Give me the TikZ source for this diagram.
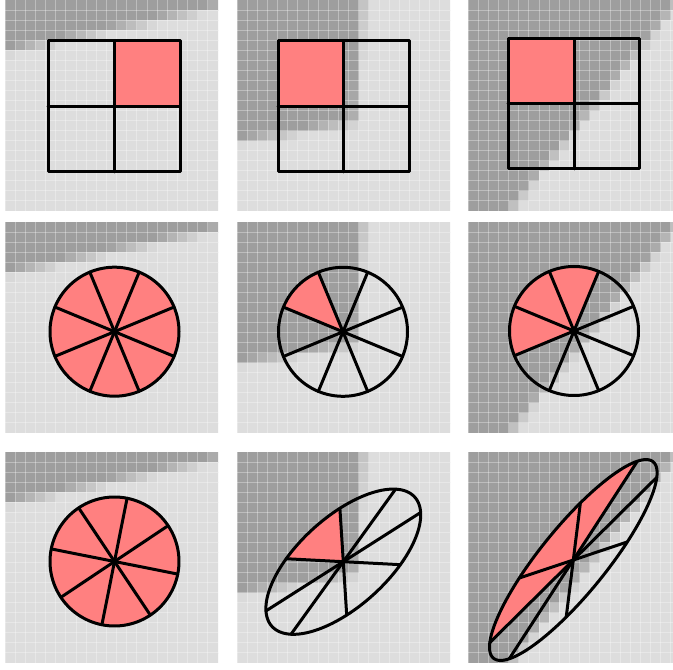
\documentclass[tikz,border=0pt]{standalone}
\definecolor{bgl}{gray}{0.865}
\definecolor{bgd}{gray}{0.62}
\definecolor{salmon}{RGB}{255,128,128}
\tikzset{
  shp/.style={line width=3pt, line join=round, line cap=round, draw=black},
  gridl/.style={draw=white, draw opacity=0.32, line width=1pt},
}
\newcommand\panelbg[3]{%
 \begin{scope}
 \clip (#1,#2) rectangle ++(213,-211);
 \foreach \ii in {0,...,20}{%
  \foreach \jj in {0,...,20}{%
    \pgfmathsetmacro\uu{(\ii+0.5)*10.143}%
    \pgfmathsetmacro\vv{(\jj+0.5)*10.048}%
    \ifcase#3\or
      \pgfmathsetmacro\dd{(52-0.2113*\uu-\vv)*0.978}%
    \or
      \pgfmathsetmacro\dd{min(126-0.06*\vv-\uu,(142-0.17*\uu-\vv)*0.986)}%
    \or
      \pgfmathsetmacro\dd{-0.7775*(\uu-50)-0.6286*(\vv-200)}%
    \fi
    \pgfmathtruncatemacro\pct{max(0,min(100,50+10*\dd))}%
    \fill[bgd!\pct!bgl] ({#1+\ii*10.143},{#2-\jj*10.048}) rectangle ++(10.7,-10.6);
  }}%
 \foreach \ii in {0,...,21}{\draw[gridl] ({#1+\ii*10.143},#2) -- ++(0,-211);}%
 \foreach \jj in {0,...,21}{\draw[gridl] (#1,{#2-\jj*10.048}) -- ++(213,0);}%
 \end{scope}}
\newcommand\wheel[2]{%
 \begin{scope}[#1]
  \foreach \aa/\bb in {#2}{\fill[salmon] (0,0) -- plot[domain=\aa:\bb,samples=40] ({64.5*cos(\x)},{64.5*sin(\x)}) -- cycle;}
  \draw[shp] plot[domain=0:360,samples=145] ({64.5*cos(\x)},{64.5*sin(\x)}) -- cycle;
  \foreach \aa in {22.5,67.5,...,337.5}{\draw[shp] (0,0) -- ({64.5*cos(\aa)},{64.5*sin(\aa)});}
 \end{scope}}
\begin{document}
\begin{tikzpicture}[x=1pt,y=1pt]
\useasboundingbox (0,0) rectangle (673,670);
\clip (0,0) rectangle (673,670);
\fill[white] (0,0) rectangle (673,670);
\foreach \cc/\xo in {1/5,2/237,3/468}{%
  \foreach \yo in {670,448,218}{\panelbg{\xo}{\yo}{\cc}}}
% row 1: squares
\fill[salmon] (114,629) rectangle (180,563.5);
\draw[shp] (48,629) rectangle (180,498) (114,629) -- (114,498) (48,563.5) -- (180,563.5);
\fill[salmon] (278,629) rectangle (343.5,563.5);
\draw[shp] (278,629) rectangle (409,498) (343.5,629) -- (343.5,498) (278,563.5) -- (409,563.5);
\fill[salmon] (508,631) rectangle (574,566);
\draw[shp] (508,631) rectangle (639,501) (574,631) -- (574,501) (508,566) -- (639,566);
% row 2: circles
\wheel{shift={(114.5,338.3)}}{0/360}
\wheel{shift={(343,338.2)}}{112.5/157.5}
\wheel{shift={(574,339)}}{67.5/202.5}
% row 3: transformed circles
\wheel{shift={(114.5,108.5)},rotate=11.25}{0/360}
\wheel{shift={(343.3,108.3)},cm={1.128,0.388,0.41,1.057,(0,0)}}{112.5/157.5}
\wheel{shift={(573.3,110)},cm={1.154,0.845,0.597,1.308,(0,0)}}{67.5/202.5}
\end{tikzpicture}
\end{document}
